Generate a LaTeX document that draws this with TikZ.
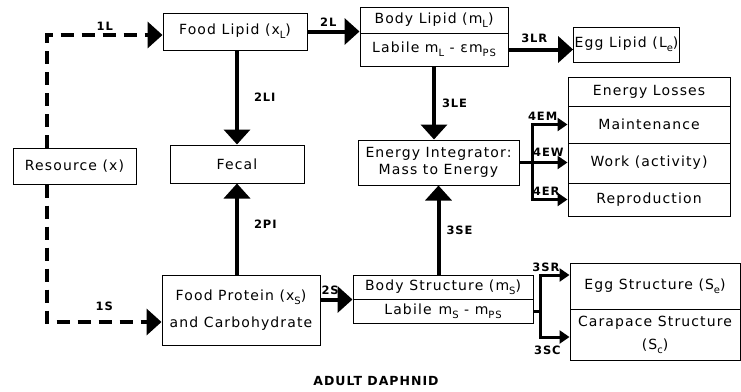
\documentclass[tikz,border=0pt]{standalone}
\usepackage{fontspec}
\usepackage{tikz}
\usetikzlibrary{arrows.meta,calc}
\newfontfamily\plotfont[LetterSpace=8]{DejaVu Sans}
\newcommand{\lo}[1]{\raisebox{-0.5ex}{\fontsize{10}{10}\selectfont #1}}

\begin{document}
\begin{tikzpicture}[x=1pt,y=-1pt,font=\plotfont\fontsize{14}{17}\selectfont]
    \tikzset{box/.style={draw,line width=1pt,inner sep=1pt,align=center},
      flow/.style={line width=4pt,-{Triangle[length=15pt,width=26pt]}},
      feed/.style={flow,dash pattern=on 13pt off 8pt},
      part/.style={line width=3pt},
      split/.style={part,-{Triangle[length=10pt,width=13pt]}},
      tag/.style={font=\plotfont\bfseries\fontsize{11.5}{11.5}\selectfont,inner sep=0pt}}
    \useasboundingbox (0,0) rectangle (741,391);
    % lipid pathway
    \node[box,minimum width=144pt,minimum height=37pt] (foodlipid) at (235,31.5) {Food Lipid (x\lo{L})};
    \node[box,minimum width=148pt,minimum height=26pt] (bodylipid) at (434,20) {Body Lipid (m\lo{L})};
    \node[box,minimum width=148pt,minimum height=33pt] (labilel) at (434,49.5) {Labile m\lo{L} - εm\lo{PS}};
    \node[box,minimum width=99pt,minimum height=35pt] (egglipid) at (626.5,44.5) {Egg Lipid (L\lo{e})};
    % energy losses
    \node[box,minimum width=162pt,minimum height=29pt] (losses) at (649,91.5) {Energy Losses};
    \node[box,minimum width=162pt,minimum height=37pt] (maint) at (649,124.5) {Maintenance};
    \node[box,minimum width=162pt,minimum height=40pt] (work) at (649,163) {Work (activity)};
    \node[box,minimum width=162pt,minimum height=33pt] (repro) at (649,199.5) {Reproduction};
    \node[box,minimum width=161pt,minimum height=45pt] (integ) at (438.5,162.5) {Energy Integrator:\\Mass to Energy};
    \node[box,minimum width=134pt,minimum height=38pt] (fecal) at (237,164) {Fecal};
    \node[box,minimum width=123pt,minimum height=36pt] (resource) at (74.5,166) {Resource (x)};
    % structure pathway
    \node[box,minimum width=158pt,minimum height=70pt] (protein) at (241,310) {Food Protein (x\lo{S})\\[10pt]and Carbohydrate};
    \node[box,minimum width=180pt,minimum height=24pt] (bodystruct) at (443,287) {Body Structure (m\lo{S})};
    \node[box,minimum width=180pt,minimum height=24pt] (labiles) at (443,311) {Labile\enspace m\lo{S} - m\lo{PS}};
    \node[box,minimum width=170pt,minimum height=46pt] (eggstruct) at (655,286) {Egg Structure (S\lo{e})};
    \node[box,minimum width=170pt,minimum height=51pt] (carapace) at (655,334.5) {Carapace Structure\\[6pt](S\lo{c})};
    \node[font=\plotfont\bfseries\fontsize{12.5}{12.5}\selectfont] (title) at (376,381) {ADULT DAPHNID};

    \coordinate (lcorner) at (47,35);
    \coordinate (scorner) at (47,322);
    \coordinate (ejoin) at (532,162.5);
    \coordinate (sjoin) at (540,311);
    \coordinate (srise) at (540,275);
    \coordinate (sdrop) at (540,337);

    \draw[feed] (resource.north -| lcorner) -- (lcorner) -- node[tag,above=3pt]{1L} (foodlipid.west |- lcorner);
    \draw[feed] (resource.south -| scorner) -- (scorner) -- node[tag,above=9pt]{1S} (protein.west |- scorner);
    \draw[flow] (foodlipid.east) -- node[tag,above=3pt,pos=0.4]{2L} (foodlipid.east -| bodylipid.west);
    \draw[flow] (foodlipid.south -| fecal.north) -- node[tag,right=15pt]{2LI} (fecal.north);
    \draw[flow] (protein.north -| fecal.south) -- node[tag,right=15pt,pos=0.55]{2PI} (fecal.south);
    \draw[flow] (labilel.east) -- node[tag,above=5pt,pos=0.4]{3LR} (labilel.east -| egglipid.west);
    \draw[flow] (labilel.south) -- node[tag,right=6pt]{3LE} (labilel.south |- integ.north);
    \draw[flow] (bodystruct.north -| integ.south) -- node[tag,right=6pt]{3SE} (integ.south);
    \draw[flow] (protein.east |- bodystruct.south) -- node[tag,above=3pt,pos=0.3]{2S} (bodystruct.south west);
    % energy branches
    \draw[split] (integ.east) -- node[tag,above=5pt,pos=0.6]{4EW} (integ.east -| work.west);
    \draw[split] (ejoin |- repro.west) -- (ejoin |- maint.west) -- node[tag,above=3pt,pos=0.3]{4EM} (maint.west);
    \draw[split] (ejoin |- maint.west) -- (ejoin |- repro.west) -- node[tag,above=3pt,pos=0.4]{4ER} (repro.west);
    % structure branches
    \draw[part] (labiles.east) -- (sjoin);
    \draw[split] (sdrop) -- (srise) -- node[tag,above=2pt,pos=0.2]{3SR} (srise -| eggstruct.west);
    \draw[split] (srise) -- (sdrop) -- node[tag,below=7pt,pos=0.25]{3SC} (sdrop -| carapace.west);
\end{tikzpicture}
\end{document}
